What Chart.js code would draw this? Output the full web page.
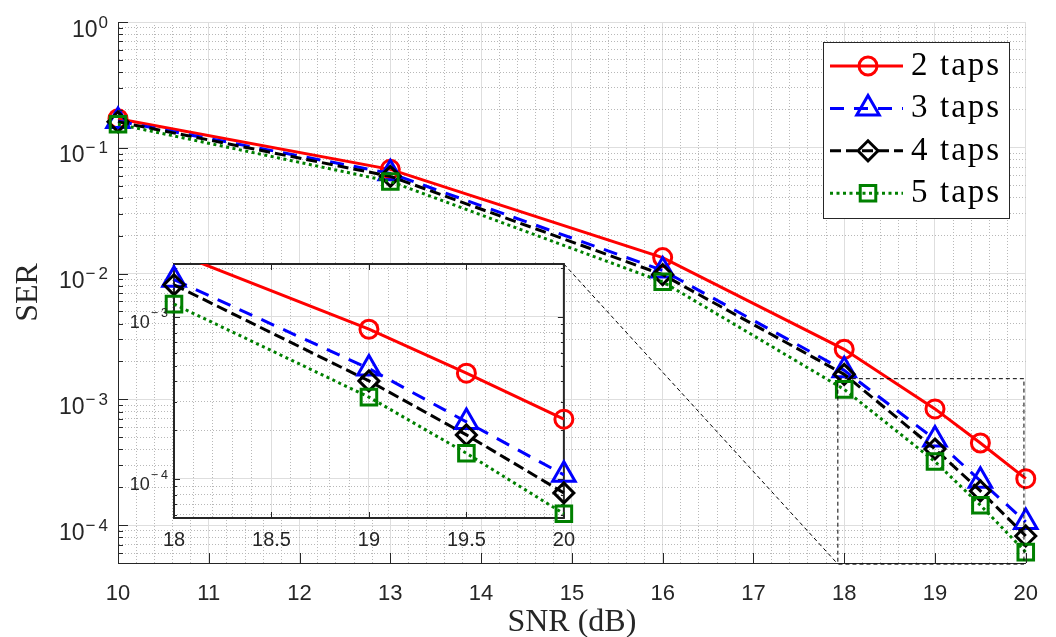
<!DOCTYPE html>
<html>
<head>
<meta charset="utf-8">
<script src="https://cdn.jsdelivr.net/npm/chart.js@4.4.1/dist/chart.umd.min.js"></script>
<style>
html, body { margin: 0; padding: 0; background: #fff; }
#wrap { position: relative; width: 1056px; height: 637px; }
#mainChart { position: absolute; left: 0; top: 0; }
#insetChart { position: absolute; left: 110px; top: 254px; }
</style>
</head>
<body>
<div id="wrap">
  <canvas id="mainChart" width="1056" height="637"></canvas>
  <canvas id="insetChart" width="475" height="300"></canvas>
</div>
<script>
// values
const snr = [10, 13, 16, 18, 19, 19.5, 20];
const ser2taps = [0.17, 0.0674, 0.0134, 2.5e-3, 8.4e-4, 4.5e-4, 2.34e-4];
const ser3taps = [0.163, 0.0626, 0.0106, 1.7e-3, 4.8e-4, 2.25e-4, 1.06e-4];
const ser4taps = [0.161, 0.0593, 0.0098, 1.58e-3, 4.03e-4, 1.87e-4, 8.2e-5];
const ser5taps = [0.154, 0.054, 0.0086, 1.2e-3, 3.2e-4, 1.44e-4, 6.1e-5];
const seriesNames = ['2 taps', '3 taps', '4 taps', '5 taps'];

const xTicksMain = [10, 11, 12, 13, 14, 15, 16, 17, 18, 19, 20];
const yExpMain = [0, -1, -2, -3, -4];
const xTicksInset = [18, 18.5, 19, 19.5, 20];
const xTickLabelsInset = ['18', '18.5', '19', '19.5', '20'];
const yExpInset = [-3, -4];

const mainRange = { xMin: 10, xMax: 20, yMin: 5e-5, yMax: 1 };
const insetRange = { xMin: 18, xMax: 20, yMin: 5.74e-5, yMax: 2.123e-3 };
const zoomBox = { x0: 17.93, x1: 19.98, y0: 4.9e-5, y1: 1.46e-3 };

const serValues = [ser2taps, ser3taps, ser4taps, ser5taps];
const styles = [
    { color: '#ff0000', dash: [], point: 'circle', r: 9 },
    { color: '#0000ff', dash: [14, 10], point: 'triangle', r: 13 },
    { color: '#000000', dash: [11, 5], point: 'rectRot', r: 10 },
    { color: '#008000', dash: [3, 3.5], point: 'rect', r: 11 }
];

const TXT = '#262626';
const MAJOR_GRID = '#dedede';
const MINOR_GRID = '#b8b8b8';
const LW = 3;

const isInt = v => Math.abs(v - Math.round(v)) < 1e-6;
const isHalf = v => isInt(v * 2);
const isDecade = v => isInt(Math.log10(v));

function logGrid(min, max) {
    const out = [];
    for (let e = Math.floor(Math.log10(min)); e <= Math.ceil(Math.log10(max)); e++) {
        for (let m = 1; m <= 9; m++) {
            const v = m * Math.pow(10, e);
            if (v >= min * 0.999 && v <= max * 1.001) out.push(v);
        }
    }
    return out;
}
function linGrid(min, max, step) {
    const out = [];
    const n = Math.round((max - min) / step);
    for (let i = 0; i <= n; i++) out.push(Math.round((min + i * step) * 100) / 100);
    return out;
}

const xGridMain = linGrid(mainRange.xMin, mainRange.xMax, 0.2);
const yGridMain = logGrid(mainRange.yMin, mainRange.yMax);
const xGridInset = linGrid(insetRange.xMin, insetRange.xMax, 0.1);
const yGridInset = logGrid(insetRange.yMin, insetRange.yMax);

function makeDatasets(fromIdx, clip) {
    return serValues.map((vals, k) => ({
        label: seriesNames[k],
        data: snr.slice(fromIdx).map((x, i) => ({ x: x, y: vals[fromIdx + i] })),
        borderColor: styles[k].color,
        borderWidth: LW,
        borderDash: styles[k].dash,
        pointStyle: styles[k].point,
        pointRadius: styles[k].r,
        pointHoverRadius: styles[k].r,
        pointBorderWidth: LW,
        pointBorderColor: styles[k].color,
        pointBackgroundColor: 'rgba(0,0,0,0)',
        fill: false,
        tension: 0,
        order: 4 - k,
        clip: clip
    }));
}

function line(ctx, x1, y1, x2, y2) {
    ctx.beginPath(); ctx.moveTo(x1, y1); ctx.lineTo(x2, y2); ctx.stroke();
}

// "10" with a superscript exponent, right aligned at xr
function powLabel(ctx, exp, xr, py, big, small, baseOff, expOff, sp) {
    ctx.save();
    ctx.fillStyle = TXT;
    ctx.textAlign = 'right';
    ctx.textBaseline = 'alphabetic';
    const expTxt = exp < 0 ? '\u2212' + (-exp) : String(exp);
    ctx.font = small + 'px "Liberation Sans"';
    ctx.letterSpacing = exp < 0 ? sp + 'px' : '0px';
    const w = ctx.measureText(expTxt).width;
    ctx.fillText(expTxt, xr + (exp < 0 ? sp : 0), py + expOff);
    ctx.letterSpacing = '0px';
    ctx.font = big + 'px "Liberation Sans"';
    ctx.fillText('10', xr - w + (exp < 0 ? sp : 0) - 1, py + baseOff);
    ctx.restore();
}

const gridOpts = (isMajor) => ({
    color: c => (c.tick && isMajor(c.tick.value)) ? MAJOR_GRID : MINOR_GRID,
    lineWidth: 1,
    drawTicks: false
});
const borderOpts = (isMajor, show) => ({
    display: show,
    color: TXT,
    width: 1,
    dash: c => (c.tick && !isMajor(c.tick.value)) ? [1, 2] : []
});

// ---------- inset ----------
const insetCanvas = document.getElementById('insetChart');
const insetDecor = {
    id: 'insetDecor',
    beforeDraw(chart) {
        const { ctx, chartArea: a } = chart;
        ctx.save();
        ctx.fillStyle = '#fff';
        ctx.fillRect(a.left, a.top, a.right - a.left, a.bottom - a.top);
        ctx.restore();
    },
    beforeDatasetsDraw(chart) {
        const { ctx, chartArea: a, scales: { x, y } } = chart;
        ctx.save();
        ctx.strokeStyle = TXT;
        ctx.lineWidth = 1;
        yGridInset.forEach(v => {
            const py = Math.round(y.getPixelForValue(v)) + 0.5;
            const len = isDecade(v) ? 6 : 3;
            line(ctx, a.left, py, a.left + len, py);
            line(ctx, a.right, py, a.right - len, py);
        });
        xTicksInset.forEach(v => {
            const px = Math.round(x.getPixelForValue(v)) + 0.5;
            line(ctx, px, a.bottom, px, a.bottom - 6);
            line(ctx, px, a.top, px, a.top + 6);
        });
        ctx.lineWidth = 2;
        ctx.strokeRect(a.left, a.top, a.right - a.left, a.bottom - a.top);
        ctx.restore();
    },
    afterDraw(chart) {
        const { ctx, chartArea: a, scales: { y } } = chart;
        yExpInset.forEach(e => {
            powLabel(ctx, e, a.left - 6, y.getPixelForValue(Math.pow(10, e)), 18, 12.5, 11, 0, 3);
        });
    }
};

const insetChart = new Chart(insetCanvas.getContext('2d'), {
    type: 'line',
    data: { datasets: makeDatasets(3, { left: 16, right: 16, top: 0, bottom: 16 }) },
    options: {
        responsive: false,
        animation: false,
        events: [],
        layout: { autoPadding: false, padding: { top: 10, right: 16, left: 0, bottom: 0 } },
        plugins: { legend: { display: false }, tooltip: { enabled: false } },
        scales: {
            x: {
                type: 'linear', min: insetRange.xMin, max: insetRange.xMax,
                afterBuildTicks: ax => { ax.ticks = xGridInset.map(v => ({ value: v })); },
                afterFit: ax => { ax.height = 36; },
                ticks: {
                    autoSkip: false, maxRotation: 0, padding: 10, color: TXT,
                    font: { family: 'Liberation Sans', size: 20 },
                    callback: v => {
                        const i = xTicksInset.findIndex(t => Math.abs(t - v) < 1e-6);
                        return i >= 0 ? xTickLabelsInset[i] : '';
                    }
                },
                grid: gridOpts(isHalf),
                border: borderOpts(isHalf, false)
            },
            y: {
                type: 'logarithmic', min: insetRange.yMin, max: insetRange.yMax,
                afterBuildTicks: ax => { ax.ticks = yGridInset.map(v => ({ value: v })); },
                afterFit: ax => { ax.width = 64; },
                ticks: { display: false },
                grid: gridOpts(isDecade),
                border: borderOpts(isDecade, false)
            }
        }
    },
    plugins: [insetDecor]
});

// ---------- main ----------
const mainDecor = {
    id: 'mainDecor',
    beforeDraw(chart) {
        const ctx = chart.ctx;
        ctx.save();
        ctx.fillStyle = '#fff';
        ctx.fillRect(0, 0, chart.width, chart.height);
        ctx.restore();
    },
    afterDatasetsDraw(chart) {
        const { ctx, chartArea: a, scales: { x, y } } = chart;
        ctx.save();
        ctx.strokeStyle = TXT;
        ctx.lineWidth = 1;
        // inward tick marks
        yGridMain.forEach(v => {
            const py = Math.round(y.getPixelForValue(v)) + 0.5;
            line(ctx, a.left, py, a.left + (isDecade(v) ? 10 : 5), py);
        });
        xTicksMain.forEach(v => {
            const px = Math.round(x.getPixelForValue(v)) + 0.5;
            line(ctx, px, a.bottom, px, a.bottom - 10);
        });

        // zoom box and connector to inset
        ctx.strokeStyle = '#000';
        ctx.setLineDash([4, 3]);
        const bx0 = x.getPixelForValue(zoomBox.x0), bx1 = x.getPixelForValue(zoomBox.x1);
        const by0 = y.getPixelForValue(zoomBox.y0), by1 = y.getPixelForValue(zoomBox.y1);
        ctx.strokeRect(bx0, by1, bx1 - bx0, by0 - by1);
        const ia = insetChart.chartArea;
        line(ctx, insetCanvas.offsetLeft + ia.right, insetCanvas.offsetTop + ia.top, bx0, by0);
        ctx.setLineDash([]);
        ctx.restore();

        // y tick labels
        yExpMain.forEach(e => {
            powLabel(ctx, e, a.left - 10, y.getPixelForValue(Math.pow(10, e)), 23, 17, 14.5, 5.5, 3);
        });

        // axis titles
        ctx.save();
        ctx.fillStyle = TXT;
        ctx.font = '32px "Liberation Serif"';
        ctx.textAlign = 'center';
        ctx.textBaseline = 'alphabetic';
        ctx.fillText('SNR (dB)', (a.left + a.right) / 2, 631);
        ctx.translate(37, (a.top + a.bottom) / 2);
        ctx.rotate(-Math.PI / 2);
        ctx.fillText('SER', 0, 0);
        ctx.restore();

        // legend
        const L = { x: 823, y: 42, w: 186, h: 176, row0: 66, rowH: 42.4 };
        ctx.save();
        ctx.fillStyle = '#fff';
        ctx.fillRect(L.x, L.y, L.w, L.h);
        ctx.strokeStyle = TXT;
        ctx.lineWidth = 1;
        ctx.strokeRect(L.x + 0.5, L.y + 0.5, L.w, L.h);
        seriesNames.forEach((name, k) => {
            const ry = L.row0 + k * L.rowH;
            const st = styles[k];
            ctx.strokeStyle = st.color;
            ctx.lineWidth = LW;
            ctx.setLineDash(st.dash);
            line(ctx, 830, ry, 903, ry);
            ctx.setLineDash([]);
            ctx.fillStyle = 'rgba(0,0,0,0)';
            Chart.helpers.drawPoint(ctx, { pointStyle: st.point, radius: st.r, rotation: 0, borderWidth: LW }, 868, ry);
            const parts = name.split(' ');
            ctx.fillStyle = '#000';
            ctx.font = '33px "Liberation Serif"';
            ctx.textAlign = 'left';
            ctx.textBaseline = 'alphabetic';
            ctx.fillText(parts[0], 911, ry + 9);
            ctx.letterSpacing = '2px';
            ctx.fillText(parts[1], 940, ry + 9);
            ctx.letterSpacing = '0px';
        });
        ctx.restore();
    }
};

const mainChart = new Chart(document.getElementById('mainChart').getContext('2d'), {
    type: 'line',
    data: { datasets: makeDatasets(0, false) },
    options: {
        responsive: false,
        animation: false,
        events: [],
        layout: { autoPadding: false, padding: { top: 22, right: 28, left: 0, bottom: 0 } },
        plugins: { legend: { display: false }, tooltip: { enabled: false } },
        scales: {
            x: {
                type: 'linear', min: mainRange.xMin, max: mainRange.xMax,
                afterBuildTicks: ax => { ax.ticks = xGridMain.map(v => ({ value: v })); },
                afterFit: ax => { ax.height = 74; },
                ticks: {
                    autoSkip: false, maxRotation: 0, padding: 18, color: TXT,
                    font: { family: 'Liberation Sans', size: 22 },
                    callback: v => (xTicksMain.some(t => Math.abs(t - v) < 1e-6) ? String(Math.round(v)) : '')
                },
                grid: gridOpts(isInt),
                border: borderOpts(isInt, true)
            },
            y: {
                type: 'logarithmic', min: mainRange.yMin, max: mainRange.yMax,
                afterBuildTicks: ax => { ax.ticks = yGridMain.map(v => ({ value: v })); },
                afterFit: ax => { ax.width = 118; },
                ticks: { display: false },
                grid: gridOpts(isDecade),
                border: borderOpts(isDecade, true)
            }
        }
    },
    plugins: [mainDecor]
});
</script>
</body>
</html>
